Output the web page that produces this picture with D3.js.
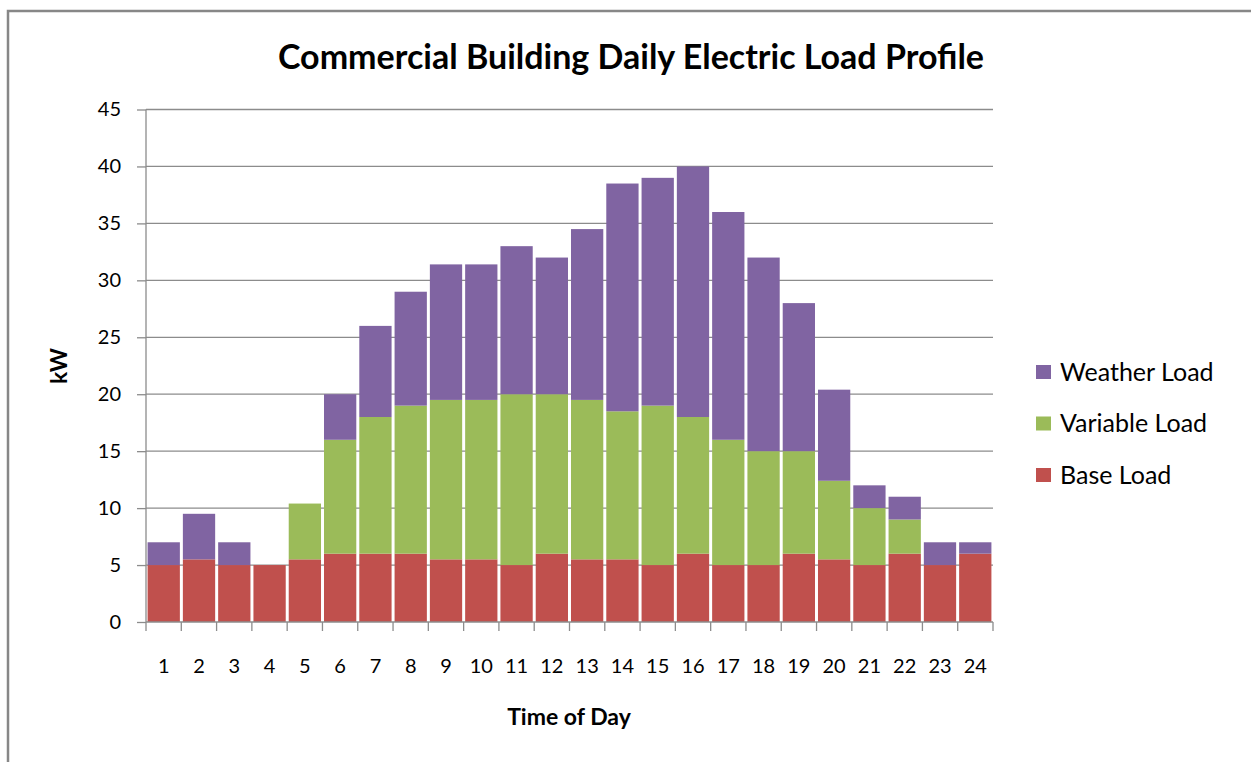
<!DOCTYPE html>
<html>
<head>
<meta charset="utf-8">
<script src="https://cdn.jsdelivr.net/npm/d3@7"></script>
<style>
  body { margin: 0; background: #fff; }
  svg text { font-family: Lato, "Open Sans", sans-serif; fill: #000; }
</style>
</head>
<body>
<div id="chart"></div>
<script>
// data
const hours = d3.range(1, 25).map(String);
const baseLoad     = [5, 5.5, 5, 5, 5.5, 6, 6, 6, 5.5, 5.5, 5, 6, 5.5, 5.5, 5, 6, 5, 5, 6, 5.5, 5, 6, 5, 6];
const variableLoad = [0, 0, 0, 0, 4.9, 10, 12, 13, 14, 14, 15, 14, 14, 13, 14, 12, 11, 10, 9, 6.9, 5, 3, 0, 0];
const weatherLoad  = [2, 4, 2, 0, 0, 4, 8, 10, 11.9, 11.9, 13, 12, 15, 20, 20, 22, 20, 17, 13, 8, 2, 2, 2, 1];
const seriesNames  = ['Base Load', 'Variable Load', 'Weather Load'];
const yTicks = [0, 5, 10, 15, 20, 25, 30, 35, 40, 45];

const svgwidth = 1251, svgheight = 762;
const margin = { top: 109.5, left: 146, right: 258, bottom: 140 };
const width = svgwidth - margin.left - margin.right;
const height = svgheight - margin.top - margin.bottom;

const colors = { 'Base Load': '#c0504d', 'Variable Load': '#9bbb59', 'Weather Load': '#8064a2' };

const svg = d3.select('#chart').append('svg')
  .attr('width', svgwidth).attr('height', svgheight);

// outer frame (only top and left edges show)
svg.append('path')
  .attr('d', `M8,${svgheight} V11 H${svgwidth}`)
  .attr('fill', 'none').attr('stroke', '#878787').attr('stroke-width', 2.5);

const chartGroup = svg.append('g')
  .attr('transform', `translate(${margin.left},${margin.top})`);

const rows = hours.map((h, i) => ({
  hour: h,
  'Base Load': baseLoad[i],
  'Variable Load': variableLoad[i],
  'Weather Load': weatherLoad[i]
}));
const stacked = d3.stack().keys(seriesNames)(rows);

const xScale = d3.scaleBand().domain(hours).range([0, width]).paddingInner(0.085).paddingOuter(0.045);
const yScale = d3.scaleLinear().domain([0, 45]).range([height, 0]);

// gridlines
chartGroup.append('g')
  .selectAll('line').data(yTicks.slice(1)).enter()
  .append('line')
  .attr('x1', 0).attr('x2', width)
  .attr('y1', d => yScale(d)).attr('y2', d => yScale(d))
  .attr('stroke', '#8c8c8c').attr('stroke-width', 1.3);

// bars
chartGroup.append('g').selectAll('g').data(stacked).enter()
  .append('g').attr('fill', d => colors[d.key])
  .selectAll('rect').data(d => d).enter()
  .append('rect')
  .attr('x', d => xScale(d.data.hour))
  .attr('width', xScale.bandwidth())
  .attr('y', d => yScale(d[1]))
  .attr('height', d => yScale(d[0]) - yScale(d[1]));

// y axis
const yAxis = d3.axisLeft(yScale).tickValues(yTicks).tickSize(9).tickPadding(16);
const yG = chartGroup.append('g').call(yAxis);
yG.select('.domain').attr('stroke', '#8c8c8c').attr('stroke-width', 1.3).attr('d', `M0,${height}V0`);
yG.selectAll('.tick line').attr('stroke', '#8c8c8c').attr('stroke-width', 1.3);
yG.selectAll('.tick text').style('font-size', '20px');

// x axis, ticks sit between categories
const xG = chartGroup.append('g').attr('transform', `translate(0,${height})`);
xG.append('line').attr('x1', 0).attr('x2', width).attr('stroke', '#8c8c8c').attr('stroke-width', 1.3);
xG.selectAll('line.tk').data(d3.range(hours.length + 1)).enter()
  .append('line').attr('class', 'tk')
  .attr('x1', i => i * width / hours.length).attr('x2', i => i * width / hours.length)
  .attr('y1', 0).attr('y2', 9)
  .attr('stroke', '#8c8c8c').attr('stroke-width', 1.3);
xG.selectAll('text').data(hours).enter()
  .append('text')
  .attr('x', d => xScale(d) + xScale.bandwidth() / 2)
  .attr('y', 51)
  .attr('text-anchor', 'middle')
  .style('font-size', '20px')
  .text(d => d);

// titles
svg.append('text')
  .attr('x', 631).attr('y', 69)
  .attr('text-anchor', 'middle')
  .style('font-size', '34px').style('font-weight', 'bold')
  .text('Commercial Building Daily Electric Load Profile');

svg.append('text')
  .attr('x', 569).attr('y', 725)
  .attr('text-anchor', 'middle')
  .style('font-size', '23px').style('font-weight', 'bold')
  .text('Time of Day');

svg.append('text')
  .attr('transform', 'translate(67,366) rotate(-90)')
  .attr('text-anchor', 'middle')
  .style('font-size', '23px').style('font-weight', 'bold')
  .text('kW');

// legend
const legend = svg.append('g').attr('transform', 'translate(1036,372)');
const legendItems = legend.selectAll('g').data(seriesNames.slice().reverse()).enter()
  .append('g').attr('transform', (d, i) => `translate(0,${i * 51.5})`);
legendItems.append('rect')
  .attr('x', 0).attr('y', -7).attr('width', 15).attr('height', 14)
  .attr('fill', d => colors[d]);
legendItems.append('text')
  .attr('x', 24).attr('y', 0).attr('dy', '0.35em')
  .style('font-size', '25px')
  .text(d => d);
</script>
</body>
</html>
